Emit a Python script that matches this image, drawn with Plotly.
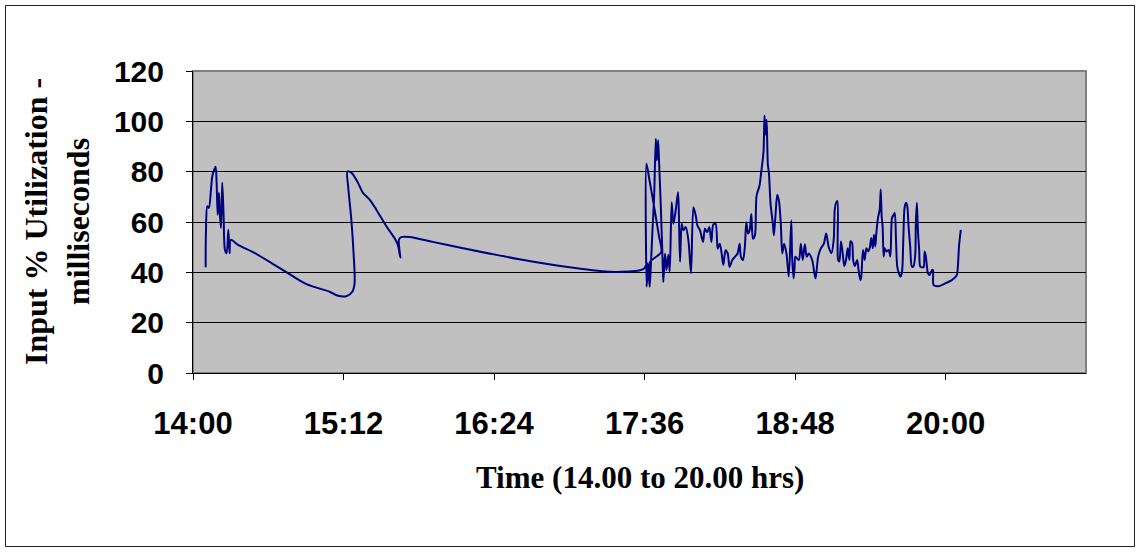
import pandas as pd
import plotly.graph_objects as go

# Sample timestamps (clock time) and measured input utilisation
time_stamps = [
    "14:06:03", "14:06:12", "14:06:51", "14:07:36", "14:08:36", "14:09:14", "14:10:12",
    "14:10:48", "14:11:18", "14:11:48", "14:12:24", "14:12:54", "14:13:24", "14:14:00",
    "14:14:39", "14:15:18", "14:16:06", "14:16:54", "14:17:30", "14:18:06", "14:21:36",
    "14:29:36", "14:43:06", "14:54:18", "15:05:24", "15:08:36", "15:13:24", "15:16:12",
    "15:17:18", "15:16:54", "15:15:45", "15:14:12", "15:13:51", "15:15:45", "15:18:54",
    "15:21:18", "15:24:30", "15:27:42", "15:32:30", "15:36:24", "15:38:00", "15:39:12",
    "15:38:30", "15:39:36", "15:43:36", "15:54:42", "16:07:30", "16:36:06", "16:58:24",
    "17:19:06", "17:28:39", "17:33:24", "17:35:48", "17:37:18", "17:37:00", "17:36:54",
    "17:38:18", "17:40:00", "17:41:36", "17:43:00", "17:44:00", "17:38:36", "17:38:30",
    "17:39:00", "17:39:48", "17:40:36", "17:41:24", "17:41:54", "17:42:30", "17:43:00",
    "17:43:48", "17:44:36", "17:45:00", "17:45:48", "17:46:30", "17:47:24", "17:48:04",
    "17:49:00", "17:49:48", "17:50:54", "17:52:03", "17:52:30", "17:53:00", "17:53:48",
    "17:54:36", "17:55:42", "17:57:00", "17:58:15", "17:59:24", "18:00:30", "18:01:18",
    "18:02:33", "18:04:00", "18:04:54", "18:06:03", "18:07:00", "18:08:00", "18:08:54",
    "18:10:00", "18:11:00", "18:12:00", "18:12:54", "18:13:42", "18:14:48", "18:15:48",
    "18:16:42", "18:18:00", "18:19:18", "18:20:30", "18:21:30", "18:22:06", "18:23:06",
    "18:24:00", "18:24:42", "18:25:30", "18:26:18", "18:27:06", "18:27:51", "18:28:48",
    "18:29:36", "18:31:00", "18:31:48", "18:32:18", "18:32:57", "18:33:24", "18:33:54",
    "18:34:24", "18:35:00", "18:35:30", "18:36:18", "18:37:24", "18:37:54", "18:38:42",
    "18:39:30", "18:40:18", "18:41:12", "18:41:54", "18:42:48", "18:43:54", "18:45:00",
    "18:46:12", "18:46:36", "18:47:18", "18:47:45", "18:48:12", "18:49:48", "18:50:48",
    "18:51:42", "18:52:42", "18:53:36", "18:54:36", "18:56:12", "18:57:48", "18:59:03",
    "19:00:18", "19:01:48", "19:02:54", "19:04:06", "19:05:24", "19:06:30", "19:07:00",
    "19:07:39", "19:08:18", "19:08:36", "19:09:12", "19:10:00", "19:10:48", "19:11:36",
    "19:12:24", "19:13:12", "19:14:00", "19:14:30", "19:15:18", "19:15:48", "19:16:36",
    "19:17:42", "19:18:30", "19:19:18", "19:19:42", "19:20:30", "19:21:18", "19:22:06",
    "19:22:54", "19:23:42", "19:24:30", "19:25:12", "19:25:48", "19:26:24", "19:26:54",
    "19:27:42", "19:28:30", "19:29:00", "19:29:27", "19:29:54", "19:30:24", "19:30:54",
    "19:31:42", "19:32:48", "19:33:36", "19:34:24", "19:35:12", "19:35:42", "19:36:18",
    "19:36:54", "19:37:42", "19:38:30", "19:39:12", "19:39:48", "19:40:24", "19:41:06",
    "19:41:42", "19:42:18", "19:43:06", "19:43:54", "19:44:36", "19:45:30", "19:45:48",
    "19:46:18", "19:46:48", "19:47:24", "19:47:54", "19:48:42", "19:49:30", "19:50:00",
    "19:50:36", "19:51:06", "19:51:36", "19:52:24", "19:53:30", "19:54:00", "19:54:18",
    "19:56:42", "19:59:54", "20:03:00", "20:05:24", "20:05:54", "20:06:30", "20:07:18",
]

utilization = [
    42.0, 56.3, 66.3, 65.6, 72.9, 78.3, 80.9,
    82.0, 75.6, 62.9, 71.6, 62.3, 57.6, 75.6,
    62.3, 48.9, 47.6, 56.9, 47.6, 52.9, 50.9,
    47.6, 40.9, 35.3, 32.3, 30.9, 30.5, 32.3,
    35.6, 46.3, 60.9, 74.3, 80.0, 79.6, 75.6,
    71.6, 68.9, 64.9, 58.3, 53.6, 50.9, 45.9,
    52.9, 54.0, 54.0, 52.1, 49.9, 45.2, 42.2,
    40.2, 40.3, 40.7, 41.5, 43.5, 34.3, 83.2,
    77.0, 69.0, 61.0, 54.0, 48.0, 44.0, 34.3,
    42.0, 56.7, 70.0, 93.1, 84.5, 92.5, 83.2,
    66.0, 46.2, 36.2, 47.5, 40.9, 47.0, 40.3,
    67.8, 59.3, 64.5, 71.8, 60.6, 44.2, 59.3,
    56.7, 58.0, 52.7, 39.6, 65.9, 62.6, 58.6,
    56.7, 52.1, 57.3, 56.0, 58.0, 52.1, 59.0,
    59.3, 49.4, 51.4, 47.5, 42.9, 48.8, 47.5,
    42.2, 44.9, 46.2, 47.5, 51.4, 46.2, 44.9,
    50.1, 59.9, 55.4, 56.7, 63.2, 53.4, 54.7,
    70.4, 74.4, 79.6, 82.9, 88.2, 102.3, 94.7,
    100.6, 82.9, 79.6, 67.2, 59.3, 54.7, 63.2,
    70.8, 68.5, 59.3, 47.5, 51.4, 47.5, 38.3,
    60.6, 46.2, 37.6, 41.6, 46.2, 44.9, 51.4,
    44.9, 51.2, 46.2, 47.5, 44.9, 37.6, 46.2,
    49.4, 51.4, 55.4, 50.1, 47.6, 52.9, 64.9,
    67.6, 68.3, 44.9, 44.3, 52.3, 47.6, 42.5,
    44.9, 49.6, 44.9, 52.3, 51.6, 44.9, 42.5,
    44.9, 40.3, 36.9, 38.3, 48.9, 44.9, 49.6,
    48.3, 49.6, 53.6, 49.6, 54.9, 50.3, 55.6,
    61.6, 64.9, 72.9, 62.3, 58.3, 46.3, 49.6,
    48.3, 48.9, 46.3, 61.6, 62.9, 63.6, 52.9,
    42.3, 39.6, 38.3, 40.3, 52.9, 65.6, 67.6,
    66.3, 58.3, 50.3, 42.3, 42.3, 46.9, 59.6,
    67.6, 56.3, 48.9, 42.3, 42.0, 42.0, 48.3,
    46.3, 42.3, 39.6, 38.9, 40.9, 40.9, 34.9,
    34.5, 35.6, 36.9, 38.9, 42.3, 50.9, 56.9,
]

tick_labels = ["14:00", "15:12", "16:24", "17:36", "18:48", "20:00"]
y_ticks = [0, 20, 40, 60, 80, 100, 120]

DAY = "2000-01-01 "
x_vals = pd.to_datetime([DAY + t for t in time_stamps])
x_ticks = pd.to_datetime([DAY + t for t in tick_labels])

fig = go.Figure()
fig.add_trace(go.Scatter(
    x=x_vals, y=utilization, mode="lines",
    line=dict(color="#000080", width=2, shape="spline", smoothing=0.8),
    hoverinfo="x+y", showlegend=False,
))

W, H = 1140, 552
L, R, T, B = 193, 1086, 71, 373   # plot-area edges in pixels
pw, ph = R - L, B - T


def px_x(p):
    return (p - L) / pw


def px_y(p):
    return (B - p) / ph


fig.update_layout(
    width=W, height=H,
    margin=dict(l=L, r=W - R, t=T, b=H - B, pad=0),
    paper_bgcolor="white",
    plot_bgcolor="#C0C0C0",
    xaxis=dict(
        type="date",
        range=[DAY + "14:00:00", DAY + "21:07:12"],
        tickvals=x_ticks, ticktext=tick_labels,
        ticks="outside", ticklen=6, tickcolor="black", tickwidth=1,
        showline=True, linecolor="black", linewidth=1,
        showgrid=False, zeroline=False,
        tickfont=dict(family="Liberation Sans, Arial", size=31, color="black", weight="bold"),
        ticklabelstandoff=17,
    ),
    yaxis=dict(
        range=[0, 120], tickvals=y_ticks,
        ticks="outside", ticklen=6, tickcolor="black", tickwidth=1,
        showline=True, linecolor="black", linewidth=1,
        showgrid=True, gridcolor="black", gridwidth=1, zeroline=False,
        tickfont=dict(family="Liberation Sans, Arial", size=30, color="black", weight="bold"),
        ticklabelstandoff=16,
    ),
    shapes=[
        # plot-area frame
        dict(type="rect", xref="paper", yref="paper", x0=0, x1=1, y0=0, y1=1,
             line=dict(color="#808080", width=2), layer="between"),
        # chart-area border
        dict(type="rect", xref="paper", yref="paper",
             x0=px_x(5.5), x1=px_x(1134.5), y0=px_y(546.5), y1=px_y(5.5),
             line=dict(color="#202020", width=1), layer="above"),
    ],
    annotations=[
        dict(text="Time (14.00 to 20.00 hrs)", xref="paper", yref="paper",
             x=0.5, y=px_y(477), xanchor="center", yanchor="middle", showarrow=False,
             font=dict(family="Liberation Serif, Times New Roman", size=31, color="black",
                       weight="bold")),
        dict(text="Input % Utilization -<br>milliseconds", xref="paper", yref="paper",
             x=px_x(57), y=0.5, xanchor="center", yanchor="middle", showarrow=False,
             textangle=-90,
             font=dict(family="Liberation Serif, Times New Roman", size=32, color="black",
                       weight="bold")),
    ],
)

fig.write_html("out.html")
